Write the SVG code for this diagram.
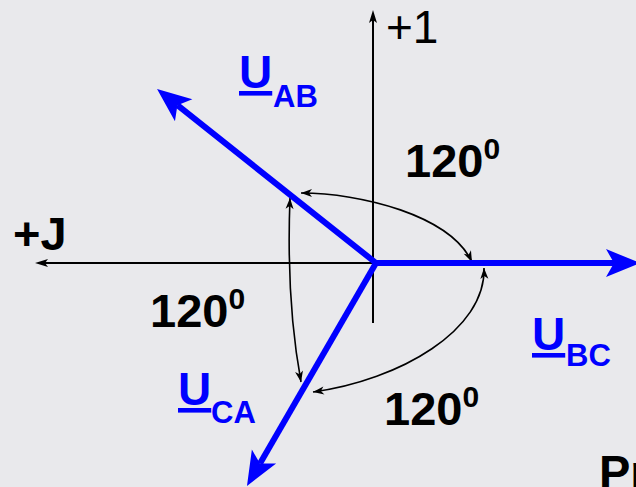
<svg xmlns="http://www.w3.org/2000/svg" width="636" height="487" viewBox="0 0 636 487">
<style>
.bg{fill:#E9E9EC}
.axis{stroke:#000;stroke-width:2;fill:none}
.vec{stroke:#0000FF;stroke-width:6;fill:none;stroke-linejoin:round}
.arc{stroke:#000;stroke-width:1.6;fill:none}
.lbl{font-family:"Liberation Sans",Arial,sans-serif;font-weight:bold;font-size:47px;fill:#000}
.ax{font-family:"Liberation Sans",Arial,sans-serif;font-size:46px;fill:#000}
.u{font-family:"Liberation Sans",Arial,sans-serif;font-weight:bold;fill:#0000FF}
</style>
<defs>
<marker id="blueHead" markerUnits="userSpaceOnUse" viewBox="-10 -16 40 32" markerWidth="40" markerHeight="32" refX="0" refY="0" orient="auto-start-reverse">
<path d="M26,0 L-8,-14 L0,0 L-8,14 Z" fill="#0000FF"/>
</marker>
<marker id="axHead" markerUnits="userSpaceOnUse" viewBox="-4 -6 16 12" markerWidth="16" markerHeight="12" refX="0" refY="0" orient="auto-start-reverse">
<path d="M10,0 L-3,-4 L0,0 L-3,4 Z" fill="#000"/>
</marker>
<marker id="arcHead" markerUnits="userSpaceOnUse" viewBox="-13 -6 16 12" markerWidth="16" markerHeight="12" refX="0" refY="0" orient="auto-start-reverse">
<path d="M0,0 L-11,-4 L-8,0 L-11,4 Z" fill="#000"/>
</marker>
</defs>
<rect class="bg" x="0" y="0" width="636" height="487"/>

<g id="axes">
<line class="axis" x1="373" y1="323" x2="373" y2="20" marker-end="url(#axHead)"/>
<line class="axis" x1="373" y1="263" x2="45" y2="263" marker-end="url(#axHead)"/>
<text class="ax" x="386" y="43">+1</text>
<text class="lbl" x="13" y="250" font-size="46">+J</text>
</g>

<g id="connectors">
<path class="arc" d="M301,193 C360,193 450,215 472,262" marker-start="url(#arcHead)" marker-end="url(#arcHead)"/>
<path class="arc" d="M290,198 Q286,300 301,382" marker-start="url(#arcHead)" marker-end="url(#arcHead)"/>
<path class="arc" d="M484,268 C486,330 400,380 313,392" marker-start="url(#arcHead)" marker-end="url(#arcHead)"/>
</g>

<g id="vectors">
<path class="vec" d="M177.4,105.2 L376,263 L614,263" marker-start="url(#blueHead)" marker-end="url(#blueHead)"/>
<path class="vec" d="M376,263 L260,463.5" marker-end="url(#blueHead)"/>
</g>

<g id="U_AB">
<text class="u" x="239" y="88" font-size="46" text-decoration="underline">U</text>
<text class="u" x="273" y="107" font-size="31">AB</text>
</g>
<g id="U_BC">
<text class="u" x="532" y="350" font-size="46" text-decoration="underline">U</text>
<text class="u" x="566" y="366" font-size="31">BC</text>
</g>
<g id="U_CA">
<text class="u" x="178" y="405" font-size="46" text-decoration="underline">U</text>
<text class="u" x="211" y="423" font-size="31">CA</text>
</g>

<g id="angle1">
<text class="lbl" x="405" y="177">120<tspan font-size="30" dy="-18">0</tspan></text>
</g>
<g id="angle2">
<text class="lbl" x="150" y="327">120<tspan font-size="30" dy="-18">0</tspan></text>
</g>
<g id="angle3">
<text class="lbl" x="384" y="425">120<tspan font-size="30" dy="-18">0</tspan></text>
</g>

<text class="lbl" x="599" y="488" font-size="48">Pr</text>
</svg>
